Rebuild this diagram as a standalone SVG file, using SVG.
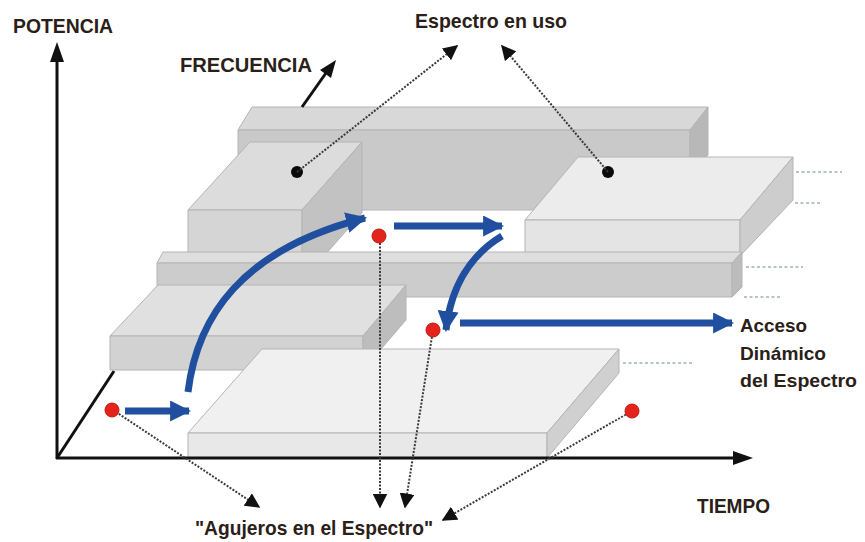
<svg xmlns="http://www.w3.org/2000/svg" width="865" height="542" viewBox="0 0 865 542">
<defs>
<style>
.lbl{font-family:"Liberation Sans",Arial,sans-serif;font-weight:bold;fill:#2a2018}
.edge{stroke:#b4b4b4;stroke-width:1;stroke-linejoin:round}
.ax{stroke:#111;stroke-width:3;fill:none}
.dot{stroke:#3a3a3a;stroke-width:2;stroke-dasharray:2 1.5;fill:none}
.grid{stroke:#a4aebb;stroke-width:1.5;stroke-dasharray:3 2.5;fill:none}
.blue{stroke:#1f4f9e;stroke-width:7;fill:none}
.red{fill:#e3231c;stroke:#c01810;stroke-width:1}
.blk{fill:#0a0a0a}
</style>
<marker id="ah" viewBox="0 0 10 10" refX="9" refY="5" markerWidth="15" markerHeight="15" markerUnits="userSpaceOnUse" orient="auto"><path d="M0,0 L10,5 L0,10 z" fill="#111"/></marker>
<marker id="bh" viewBox="0 0 10 10" refX="9" refY="5" markerWidth="21" markerHeight="21" markerUnits="userSpaceOnUse" orient="auto"><path d="M0,0 L10,5 L0,10 z" fill="#1f4f9e"/></marker>
</defs>
<rect width="865" height="542" fill="#fff"/>

<!-- diagonal axis (behind blocks) -->
<line class="ax" x1="57" y1="458" x2="114" y2="371"/>

<!-- dotted guide lines -->
<g id="guides">
<line class="grid" x1="796" y1="172" x2="842" y2="172"/>
<line class="grid" x1="795" y1="203" x2="822" y2="203"/>
<line class="grid" x1="746" y1="267" x2="803" y2="267"/>
<line class="grid" x1="744" y1="297" x2="781" y2="297"/>
<line class="grid" x1="623" y1="363" x2="694" y2="363"/>
</g>

<!-- Block E: back bar -->
<g id="blockE">
<polygon class="edge" points="238,130 252,107 708,107 690,130" fill="#d8d8d8"/>
<polygon class="edge" points="238,130 690,130 690,210 238,210" fill="#c9c9c9"/>
<polygon class="edge" points="690,130 708,107 708,155 690,178" fill="#b8b8b8"/>
</g>

<!-- Block D: left cube -->
<g id="blockD">
<polygon class="edge" points="188,210 250,142 362,142 302,210" fill="#dcdcdc"/>
<polygon class="edge" points="188,210 302,210 302,281 188,281" fill="#d5d5d5"/>
<polygon class="edge" points="302,210 362,142 362,213 302,281" fill="#c2c2c2"/>
<circle class="blk" cx="297" cy="172" r="6"/>
</g>

<!-- Block F: right cube -->
<g id="blockF">
<polygon class="edge" points="525,220 578,157 793,157 740,220" fill="#ececec"/>
<polygon class="edge" points="525,220 740,220 740,256 525,256" fill="#e4e4e4"/>
<polygon class="edge" points="740,220 793,157 793,200 740,256" fill="#cdcdcd"/>
<circle class="blk" cx="608" cy="172" r="6"/>
</g>

<!-- Bar C: middle bar -->
<g id="barC">
<polygon class="edge" points="157,263 163,252 742,252 732,263" fill="#dedede"/>
<polygon class="edge" points="157,263 732,263 732,297 157,297" fill="#cccccc"/>
<polygon class="edge" points="732,263 742,252 742,287 732,297" fill="#bcbcbc"/>
</g>

<!-- Block B: left slab -->
<g id="blockB">
<polygon class="edge" points="110,336 158,285 406,285 363,336" fill="#e0e0e0"/>
<polygon class="edge" points="110,336 363,336 363,370 110,370" fill="#d2d2d2"/>
<polygon class="edge" points="363,336 406,285 406,320 363,370" fill="#bdbdbd"/>
</g>

<!-- Block A: front slab -->
<g id="blockA">
<polygon class="edge" points="188,433 262,349 619,349 547,433" fill="#f0f0f0"/>
<polygon class="edge" points="188,433 547,433 547,458 188,458" fill="#e8e8e8"/>
<polygon class="edge" points="547,433 619,349 619,373 547,458" fill="#d0d0d0"/>
</g>

<!-- axes -->
<g id="axes">
<line class="ax" x1="57" y1="459" x2="57" y2="60"/>
<polygon points="57,42 50,62 64,62" fill="#111"/>
<line class="ax" x1="56" y1="458" x2="735" y2="458"/>
<polygon points="753,458 733,451 733,465" fill="#111"/>
<line class="ax" x1="302" y1="107" x2="326" y2="73"/>
<polygon points="336,60 320,70 331,78" fill="#111"/>
</g>

<!-- connectors -->
<g id="connectors">
<line class="dot" x1="297" y1="172" x2="457" y2="46" marker-end="url(#ah)"/>
<line class="dot" x1="608" y1="172" x2="502" y2="46" marker-end="url(#ah)"/>
<line class="dot" x1="113" y1="410" x2="259" y2="507" marker-end="url(#ah)"/>
<line class="dot" x1="380" y1="236" x2="380" y2="507" marker-end="url(#ah)"/>
<line class="dot" x1="433" y1="330" x2="405" y2="507" marker-end="url(#ah)"/>
<line class="dot" x1="632" y1="411" x2="443" y2="520" marker-end="url(#ah)"/>

<line class="blue" x1="125" y1="411" x2="189" y2="411" marker-end="url(#bh)"/>
<path class="blue" d="M188,392 C197,318 240,250 365,218" marker-end="url(#bh)"/>
<line class="blue" x1="394" y1="226" x2="502" y2="226" marker-end="url(#bh)"/>
<path class="blue" d="M502,236 C472,254 451,285 446,330" marker-end="url(#bh)"/>
<line class="blue" x1="460" y1="323" x2="732" y2="323" marker-end="url(#bh)"/>
</g>

<!-- red dots (spectrum holes) -->
<g id="holes">
<circle class="red" cx="112" cy="410" r="7"/>
<circle class="red" cx="379" cy="236" r="7"/>
<circle class="red" cx="433" cy="330" r="7"/>
<circle class="red" cx="632" cy="411" r="7"/>
</g>

<!-- labels -->
<g id="labels">
<text class="lbl" x="13" y="33" font-size="20" textLength="100" lengthAdjust="spacingAndGlyphs">POTENCIA</text>
<text class="lbl" x="180" y="72" font-size="20" textLength="132" lengthAdjust="spacingAndGlyphs">FRECUENCIA</text>
<text class="lbl" x="415" y="28" font-size="21" textLength="152" lengthAdjust="spacingAndGlyphs">Espectro en uso</text>
<text class="lbl" x="740" y="332" font-size="19" textLength="67" lengthAdjust="spacingAndGlyphs">Acceso</text>
<text class="lbl" x="740" y="360" font-size="19" textLength="86" lengthAdjust="spacingAndGlyphs">Dinámico</text>
<text class="lbl" x="740" y="387" font-size="19" textLength="117" lengthAdjust="spacingAndGlyphs">del Espectro</text>
<text class="lbl" x="697" y="513" font-size="20" textLength="73" lengthAdjust="spacingAndGlyphs">TIEMPO</text>
<text class="lbl" x="195" y="535" font-size="21" textLength="238" lengthAdjust="spacingAndGlyphs">"Agujeros en el Espectro"</text>
</g>
</svg>
